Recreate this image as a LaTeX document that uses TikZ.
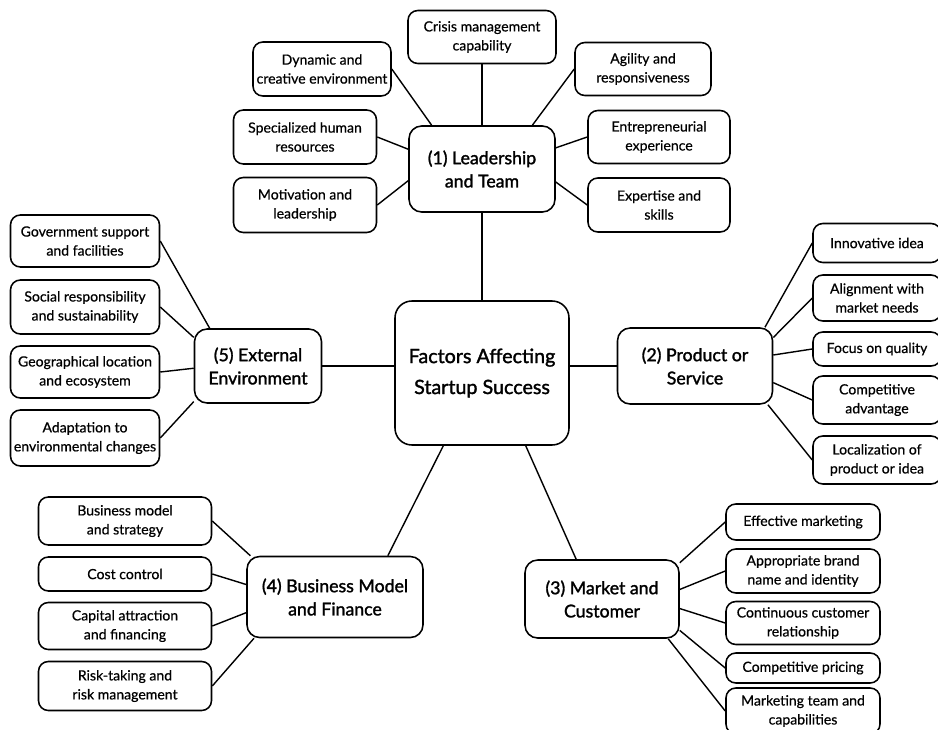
\documentclass[tikz,border=0pt]{standalone}
\usepackage{fontspec}
\setmainfont{Lato}
\newfontfamily\leaffont[FakeBold=0.6]{Lato}
\newfontfamily\catfont[FakeBold=1.6]{Lato}
\begin{document}
\begin{tikzpicture}[x=0.025cm, y=-0.025cm, line width=1pt,
		box/.style={draw, rounded corners=7pt, align=center, inner sep=2pt, line width=1.1pt},
		leaf/.style={box, font=\leaffont\fontsize{10}{13.5}\selectfont},
		cat/.style={box, rounded corners=9pt, font=\catfont\fontsize{12.6}{16.5}\selectfont},
		sz/.style 2 args={minimum width={#1*0.025cm}, minimum height={#2*0.025cm}}]
		\useasboundingbox (0,0) rectangle (938,729);
		\node[box, sz={174}{144}, rounded corners=12pt, font=\catfont\fontsize{14}{22}\selectfont] (fac) at (482,373) {Factors Affecting\\Startup Success};
		% (1) leadership
		\node[cat, sz={146}{86}] (lead) at (482,169) {(1) Leadership\\and Team};
		\draw (lead.south) -- (fac.north);
		\foreach \nm/\x/\y/\w/\h/\s/\a/\txt in {
				crisis/482/37/148/53/south/90/{Crisis management\\capability},
				dyn/322/69/138/54/east/139/{Dynamic and\\creative environment},
				agil/643/69/136/53/west/41/{Agility and\\responsiveness},
				spec/305/137/143/54/east/165/{Specialized human\\resources},
				motiv/305/205/143/55/east/189/{Motivation and\\leadership},
				entr/659/137/142/53/west/16/{Entrepreneurial\\experience},
				expert/659/205/142/54/west/-10/{Expertise and\\skills}}{
			\node[leaf, sz={\w}{\h}] (\nm) at (\x,\y) {\txt};
			\draw (\nm.\s) -- (lead.\a);
		}
		% (2) product
		\node[cat, sz={155}{76}] (prod) at (695,366) {(2) Product or\\Service};
		\draw (fac.east |- prod) -- (prod.west);
		\foreach \nm/\y/\h/\a/\txt in {
				innov/243/39/29/{Innovative idea},
				align/298/46/20/{Alignment with\\market needs},
				qual/349/34/8/{Focus on quality},
				compadv/400/48/-12/{Competitive\\advantage},
				local/460/48/-28/{Localization of\\product or idea}}{
			\node[leaf, sz={128}{\h}] (\nm) at (877,\y) {\txt};
			\draw (\nm.west) -- (prod.\a);
		}
		% (3) market
		\node[cat, sz={154}{78}] (mkt) at (602,599) {(3) Market and\\Customer};
		\draw (fac.-59) -- (mkt.123);
		\foreach \nm/\y/\h/\a/\txt in {
				effm/522/36/25/{Effective marketing},
				brand/571/44/7/{Appropriate brand\\name and identity},
				cust/623/43/-7/{Continuous customer\\relationship},
				price/668/30/-22/{Competitive pricing},
				mteam/711/46/-31/{Marketing team and\\capabilities}}{
			\node[leaf, sz={154}{\h}] (\nm) at (803,\y) {\txt};
			\draw (\nm.west) -- (mkt.\a);
		}
		% (4) business
		\node[cat, sz={176}{81}] (bus) at (335,597) {(4) Business Model\\and Finance};
		\draw (fac.242) -- (bus.38);
		\foreach \nm/\y/\h/\a/\txt in {
				model/521/48/154/{Business model\\and strategy},
				cost/574/34/172/{Cost control},
				capital/626/47/190/{Capital attraction\\and financing},
				risk/686/49/207/{Risk-taking and\\risk management}}{
			\node[leaf, sz={173}{\h}] (\nm) at (125,\y) {\txt};
			\draw (\nm.east) -- (bus.\a);
		}
		% (5) external
		\node[cat, sz={127}{74}] (ext) at (258,366) {(5) External\\Environment};
		\draw (ext.east) -- (fac.west |- ext);
		\foreach \nm/\y/\h/\a/\txt in {
				gov/241/52/142/{Government support\\and facilities},
				social/307/54/156/{Social responsibility\\and sustainability},
				geo/372/52/182/{Geographical location\\and ecosystem},
				adapt/438/56/209/{Adaptation to\\environmental changes}}{
			\node[leaf, sz={149}{\h}] (\nm) at (85,\y) {\txt};
			\draw (\nm.east) -- (ext.\a);
		}
	\end{tikzpicture}
\end{document}
